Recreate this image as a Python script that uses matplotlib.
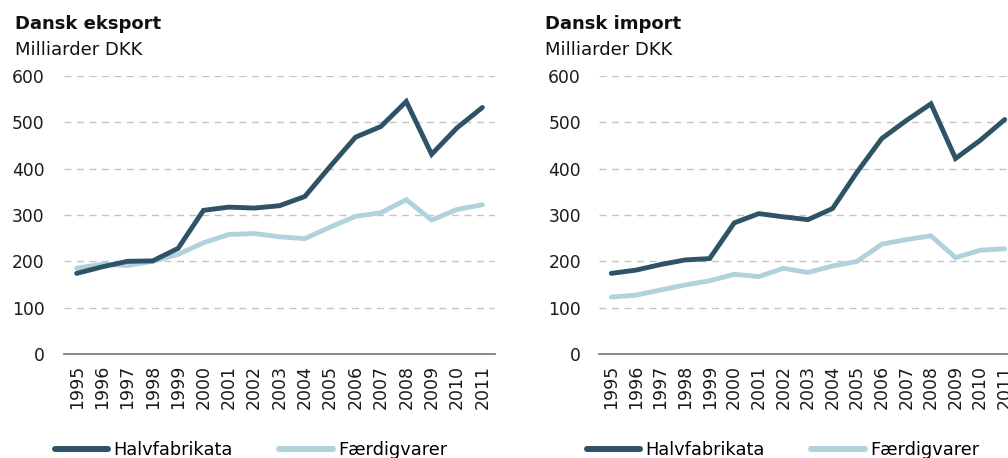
import matplotlib
matplotlib.use("Agg")
import matplotlib.pyplot as plt

years = list(range(1995, 2012))
year_labels = [str(y) for y in years]

eksport_halvfabrikata = [174, 188, 200, 201, 228, 310, 317, 315, 320, 340, 405, 468, 491, 545, 431, 488, 532]
eksport_faerdigvarer = [185, 194, 191, 200, 215, 240, 258, 260, 253, 249, 274, 297, 305, 333, 289, 312, 322]
import_halvfabrikata = [174, 181, 193, 203, 206, 283, 303, 296, 290, 314, 393, 465, 504, 540, 422, 461, 506]
import_faerdigvarer = [123, 127, 138, 149, 158, 172, 167, 185, 176, 190, 200, 237, 247, 255, 208, 224, 227]

titles = ["Dansk eksport", "Dansk import"]
subtitle = "Milliarder DKK"
series_names = ["Halvfabrikata", "Færdigvarer"]
y_ticks = [0, 100, 200, 300, 400, 500, 600]

DARK = "#2E5266"
LIGHT = "#B0D2DC"

plt.rcParams["font.family"] = ["DejaVu Sans"]

W, H = 1008, 458
fig = plt.figure(figsize=(W / 100, H / 100), dpi=100)

def px(x0, y0, w, h):
    return [x0 / W, 1 - (y0 + h) / H, w / W, h / H]

panels = [
    dict(rect=px(64, 76, 431, 278), data=(eksport_halvfabrikata, eksport_faerdigvarer),
         title=titles[0], tx=15, legx=55, pad=14),
    dict(rect=px(599, 76, 418, 278), data=(import_halvfabrikata, import_faerdigvarer),
         title=titles[1], tx=545, legx=587, pad=13),
]

for p in panels:
    ax = fig.add_axes(p["rect"])
    h1, = ax.plot(years, p["data"][0], color=DARK, lw=3.5, solid_capstyle="round",
                  solid_joinstyle="miter", zorder=3, label=series_names[0])
    h2, = ax.plot(years, p["data"][1], color=LIGHT, lw=3.5, solid_capstyle="round",
                  solid_joinstyle="miter", zorder=2, label=series_names[1])
    ax.set_xlim(1994.5, 2011.5)
    ax.set_ylim(0, 600)
    ax.set_yticks(y_ticks)
    ax.set_xticks(years)
    ax.set_xticklabels(year_labels, rotation=90)
    ax.tick_params(axis="y", length=0, pad=p["pad"], labelsize=12.3, colors="#1a1a1a")
    ax.tick_params(axis="x", length=0, pad=8, labelsize=12.5, colors="#1a1a1a")
    for s in ["top", "right", "left"]:
        ax.spines[s].set_visible(False)
    ax.spines["bottom"].set_color("#808080")
    ax.spines["bottom"].set_linewidth(1.3)
    ax.spines["bottom"].set_zorder(4)
    for v in y_ticks[1:]:
        ax.axhline(v, color="#c4c4c4", lw=1.0, ls=(0, (5, 4)), zorder=1)

    fig.text(p["tx"] / W, 1 - 24 / H, p["title"], fontsize=13, fontweight="bold",
             va="center", ha="left", color="#111111")
    fig.text(p["tx"] / W, 1 - 50 / H, subtitle, fontsize=13, va="center", ha="left",
             color="#111111")

    leg = fig.legend(handles=[h1, h2], loc="center left",
                     bbox_to_anchor=(p["legx"] / W, 1 - 450 / H), ncol=2, frameon=False,
                     fontsize=12.8, handlelength=3.0, handletextpad=0.3,
                     columnspacing=2.6, borderpad=0, borderaxespad=0)
    for line in leg.get_lines():
        line.set_linewidth(4.3)
        line.set_solid_capstyle("round")

fig.savefig("out.png", dpi=100)
